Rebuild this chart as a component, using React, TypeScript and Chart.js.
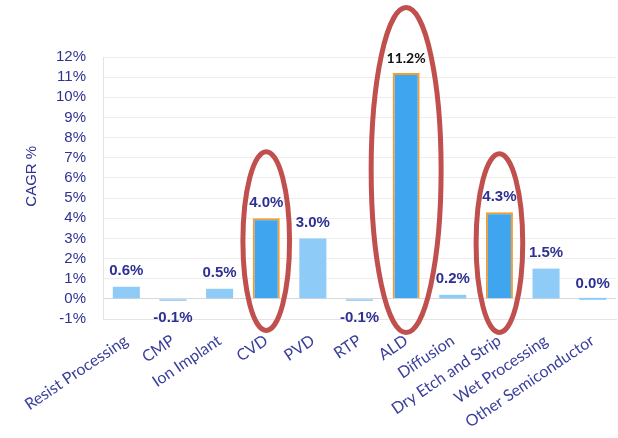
import React, { useEffect, useRef } from "react";
import { Chart, registerables } from "chart.js";

Chart.register(...registerables);

const categories = [
  "Resist Processing",
  "CMP",
  "Ion Implant",
  "CVD",
  "PVD",
  "RTP",
  "ALD",
  "Diffusion",
  "Dry Etch and Strip",
  "Wet Processing",
  "Other Semiconductor",
];
const cagr = [0.6, -0.1, 0.5, 4.0, 3.0, -0.1, 11.2, 0.2, 4.3, 1.5, 0.0];
const highlighted = ["CVD", "ALD", "Dry Etch and Strip"];
// ellipse extents in CAGR % units, one per highlighted category
const ellipseTop = [7.3, 14.45, 7.2];
const ellipseBottom = [-1.57, -1.67, -1.67];
const yTicksMin = -1;
const yTicksMax = 12;
const yTitle = "CAGR %";

const NAVY = "#2e3192";
const LIGHT = "#8ecbf6";
const DARK = "#3ea5ee";
const ORANGE = "#f39c30";
const RED = "#c0504d";

const isHi = (i: number) => highlighted.includes(categories[i]);

const labelPlugin = {
  id: "valueLabels",
  afterDatasetsDraw(chart: any) {
    const { ctx } = chart;
    const meta = chart.getDatasetMeta(0);
    ctx.save();
    ctx.textAlign = "center";
    meta.data.forEach((bar: any, i: number) => {
      const v = cagr[i];
      const txt = v.toFixed(1) + "%";
      if (categories[i] === "ALD") {
        ctx.font = "bold 14px Lato";
        ctx.fillStyle = "#111111";
      } else {
        ctx.font = 'bold 15px "Liberation Sans"';
        ctx.fillStyle = NAVY;
      }
      if (v >= 0) {
        ctx.textBaseline = "bottom";
        ctx.fillText(txt, bar.x, bar.y - 8);
      } else {
        ctx.textBaseline = "top";
        ctx.fillText(txt, bar.x, bar.y + 9);
      }
    });
    ctx.restore();
  },
};

const ellipsePlugin = {
  id: "ellipses",
  afterDatasetsDraw(chart: any) {
    const { ctx } = chart;
    const xs = chart.scales.x;
    const ys = chart.scales.y;
    const step = xs.getPixelForValue(1) - xs.getPixelForValue(0);
    ctx.save();
    ctx.strokeStyle = RED;
    ctx.lineWidth = 5;
    highlighted.forEach((name, k) => {
      const idx = categories.indexOf(name);
      const cx = xs.getPixelForValue(idx);
      const yt = ys.getPixelForValue(ellipseTop[k]);
      const yb = ys.getPixelForValue(ellipseBottom[k]);
      const rx = name === "ALD" ? step * 0.75 : step * 0.5;
      ctx.beginPath();
      ctx.ellipse(cx, (yt + yb) / 2, rx, (yb - yt) / 2, 0, 0, Math.PI * 2);
      ctx.stroke();
    });
    ctx.restore();
  },
};

const titlePlugin = {
  id: "yTitle",
  afterDraw(chart: any) {
    const { ctx, chartArea } = chart;
    ctx.save();
    ctx.translate(32, chartArea.top + (chartArea.bottom - chartArea.top) * 0.455);
    ctx.rotate(-Math.PI / 2);
    ctx.font = '15px "Liberation Sans"';
    ctx.fillStyle = NAVY;
    ctx.textAlign = "center";
    ctx.textBaseline = "middle";
    ctx.fillText(yTitle, 0, 0);
    ctx.restore();
  },
};

export default function App() {
  const ref = useRef<HTMLCanvasElement>(null);
  useEffect(() => {
    if (!ref.current) return;
    const chart = new Chart(ref.current, {
      type: "bar",
      data: {
        labels: categories,
        datasets: [
          {
            data: cagr,
            backgroundColor: categories.map((_, i) => (isHi(i) ? DARK : LIGHT)),
            borderColor: categories.map((_, i) => (isHi(i) ? ORANGE : "rgba(0,0,0,0)")),
            borderWidth: categories.map((_, i) => (isHi(i) ? 2 : 0)),
            barPercentage: 0.58,
            categoryPercentage: 1,
            minBarLength: 2,
          },
        ],
      },
      options: {
        animation: false,
        responsive: false,
        maintainAspectRatio: false,
        layout: { padding: { top: 57, right: 2, left: 0, bottom: 0 } },
        plugins: {
          legend: { display: false },
          tooltip: { enabled: false },
        },
        scales: {
          x: {
            grid: { display: false },
            border: { display: true, color: "#e4e4e4" },
            ticks: {
              minRotation: 34,
              maxRotation: 34,
              autoSkip: false,
              color: "#3a3f9c",
              font: { family: "Lato", size: 16 },
              padding: 4,
            },
            afterFit(scale: any) {
              scale.height = 119;
            },
          },
          y: {
            min: yTicksMin,
            max: yTicksMax,
            ticks: {
              stepSize: 1,
              autoSkip: false,
              color: NAVY,
              font: { family: "Liberation Sans", size: 15 },
              padding: 17,
              callback: (v: any) => v + "%",
            },
            grid: {
              drawTicks: false,
              color: (c: any) => (c.tick && c.tick.value === 0 ? "#d8d8d8" : "#ededed"),
            },
            border: { display: true, color: "#e4e4e4" },
            afterFit(scale: any) {
              scale.width = 103;
            },
          },
        },
      },
      plugins: [labelPlugin, ellipsePlugin, titlePlugin],
    });
    return () => chart.destroy();
  }, []);
  return (
    <div style={{ position: "fixed", left: 0, top: 0, width: 618, height: 438, background: "#fff" }}>
      <canvas ref={ref} width={618} height={438} />
    </div>
  );
}
